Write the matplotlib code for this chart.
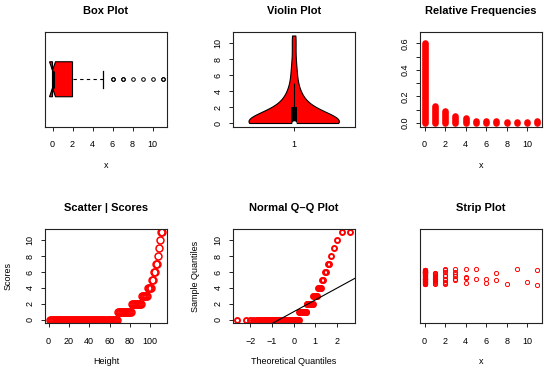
import statistics

import matplotlib
matplotlib.use("Agg")
import matplotlib.pyplot as plt
import numpy as np

# score values and how often each one occurs
values = [0, 1, 2, 3, 4, 5, 6, 7, 8, 9, 10, 11]
counts = [67, 14, 10, 6, 4, 2, 2, 2, 1, 1, 1, 2]

# vertical jitter of the strip plot points, read per value
jitter = {
    0: [0.07, -0.03, 0.02, -0.09, 0.05, -0.06, 0.01, 0.04, -0.08, 0.06,
        -0.01, -0.05, 0.03, 0.07, -0.07, 0.00, -0.04, 0.05, -0.09, 0.02,
        0.06, -0.02, -0.06, 0.04, 0.01, -0.08, 0.07, -0.03, 0.03, -0.05,
        0.05, -0.01, -0.07, 0.02, 0.06, -0.04, 0.00, -0.09, 0.04, 0.07,
        -0.02, -0.06, 0.01, 0.03, -0.08, 0.05, -0.03, 0.06, -0.05, 0.02,
        -0.01, 0.07, -0.07, 0.04, -0.04, 0.00, 0.03, -0.09, 0.05, -0.02,
        0.06, -0.06, 0.01, -0.08, 0.04, -0.03, 0.02],
    1: [0.03, -0.05, 0.01, -0.09, -0.02, 0.02, -0.07, -0.04, 0.00, -0.08,
        0.03, -0.06, -0.01, -0.03],
    2: [0.08, 0.07, 0.04, 0.01, 0.00, -0.03, -0.05, -0.07, -0.09, -0.08],
    3: [0.08, 0.05, 0.02, 0.00, -0.03, -0.05],
    4: [0.08, -0.02, -0.08, -0.01],
    5: [0.08, -0.04],
    6: [-0.04, -0.08],
    7: [0.03, -0.05],
    8: [-0.09],
    9: [0.08],
    10: [-0.07],
    11: [0.07, -0.10],
}

data = np.repeat(values, counts)
n = len(data)
rel_freq = np.array(counts) / n

plt.rcParams['font.family'] = ['Liberation Sans', 'DejaVu Sans']

RED = '#ff0000'
W, H = 550.0, 373.0
lefts = [45, 232.7, 420]
tops = [32, 228.7]
bw, bh = 122, 94.5

fig = plt.figure(figsize=(5.5, 3.73), dpi=100)


def make_ax(row, col, title):
    ax = fig.add_axes([lefts[col] / W, 1 - (tops[row] + bh) / H, bw / W, bh / H])
    ax.set_title(title, fontsize=8, fontweight='bold', pad=13)
    for s in ax.spines.values():
        s.set_linewidth(0.8)
        s.set_color('#222222')
    ax.tick_params(direction='out', length=3.2, width=0.7, labelsize=6.5,
                   color='#222222')
    ax.tick_params(axis='x', pad=6.6)
    ax.tick_params(axis='y', pad=4.2, labelrotation=90)
    return ax


def finish(ax, xlabel=None, ylabel=None):
    for lab in ax.get_yticklabels():
        lab.set_va('center')
    if xlabel:
        ax.set_xlabel(xlabel, fontsize=6.5)
        ax.xaxis.set_label_coords(0.5, -38.7 / bh)
        ax.xaxis.label.set_va('center')
    if ylabel:
        ax.set_ylabel(ylabel, fontsize=6.5)
        ax.yaxis.set_label_coords(-36.7 / bw, 0.5)
        ax.yaxis.label.set_va('center')


# box plot
ax = make_ax(0, 0, 'Box Plot')
ax.boxplot(data, orientation='horizontal', notch=True, widths=0.4,
           patch_artist=True,
           boxprops=dict(facecolor=RED, edgecolor='black', linewidth=0.8),
           medianprops=dict(color='black', linewidth=2.2),
           whiskerprops=dict(linestyle=(0, (3, 3)), linewidth=0.8),
           capprops=dict(linewidth=0.9),
           flierprops=dict(marker='o', markerfacecolor='none',
                           markeredgecolor='black', markersize=2.6,
                           markeredgewidth=0.7))
ax.set_xlim(-0.75, 11.45)
ax.set_ylim(0.46, 1.54)
ax.set_yticks([])
ax.set_xticks([0, 2, 4, 6, 8, 10])
finish(ax, xlabel='x')

# violin plot
ax = make_ax(0, 1, 'Violin Plot')
sd = np.std(data, ddof=1)
h = 1.15 * sd * (4 / (3 * n)) ** 0.2
parts = ax.violinplot(data, positions=[1], widths=0.8, showextrema=False,
                      bw_method=h / sd, points=300)
for body in parts['bodies']:
    body.set_facecolor(RED)
    body.set_edgecolor('black')
    body.set_linewidth(0.8)
    body.set_alpha(1)
q1, med, q3 = np.percentile(data, [25, 50, 75])
upper = data[data <= q3 + 1.5 * (q3 - q1)].max()
ax.vlines(1, data.min(), upper, color='black', linewidth=0.8)
ax.bar(1, q3 - q1, bottom=q1, width=0.05, color='black')
ax.plot(1, med, 'o', color='white', markersize=2.2)
ax.set_xlim(0.46, 1.54)
ax.set_ylim(-0.44, 11.44)
ax.set_xticks([1])
ax.set_yticks([0, 2, 4, 6, 8, 10])
finish(ax)

# relative frequencies
ax = make_ax(0, 2, 'Relative Frequencies')
ax.vlines(values, 0, rel_freq, color=RED, linewidth=4.8, capstyle='round')
top = rel_freq.max() * 1.1
ax.set_ylim(-0.04 * top, top * 1.04)
ax.set_xlim(-0.44, 11.44)
ax.set_xticks([0, 2, 4, 6, 8, 10])
ax.set_yticks([0.0, 0.1, 0.2, 0.3, 0.4, 0.5, 0.6])
ax.set_yticklabels(['0.0', '', '0.2', '', '0.4', '', '0.6'])
finish(ax, xlabel='x')

# scatter of sorted scores
ax = make_ax(1, 0, 'Scatter | Scores')
idx = np.arange(1, n + 1)
ax.plot(idx, np.sort(data), 'o', markerfacecolor='none', markeredgecolor=RED,
        markersize=5, markeredgewidth=1.1)
ax.set_xlim(1 - 0.04 * (n - 1), n + 0.04 * (n - 1))
ax.set_ylim(-0.44, 11.44)
ax.set_xticks([0, 20, 40, 60, 80, 100])
ax.set_yticks([0, 2, 4, 6, 8, 10])
finish(ax, xlabel='Height', ylabel='Scores')

# normal q-q plot
ax = make_ax(1, 1, 'Normal Q\u2013Q Plot')
nd = statistics.NormalDist()
theo = np.array([nd.inv_cdf((i - 0.5) / n) for i in idx])
ax.plot(theo, np.sort(data), 'o', markerfacecolor='none', markeredgecolor=RED,
        markersize=3.6, markeredgewidth=1.4)
ax.axline((nd.inv_cdf(0.25), q1), (nd.inv_cdf(0.75), q3), color='black',
          linewidth=0.8)
span = theo.max() - theo.min()
ax.set_xlim(theo.min() - 0.04 * span, theo.max() + 0.04 * span)
ax.set_ylim(-0.44, 11.44)
ax.set_xticks([-2, -1, 0, 1, 2])
ax.set_yticks([0, 2, 4, 6, 8, 10])
finish(ax, xlabel='Theoretical Quantiles', ylabel='Sample Quantiles')

# strip plot
ax = make_ax(1, 2, 'Strip Plot')
for v in values:
    yj = 1 + np.array(jitter[v])
    ax.plot(np.full(len(yj), v), yj, 'o', markerfacecolor='none',
            markeredgecolor=RED, markersize=3, markeredgewidth=0.7)
ax.set_xlim(-0.44, 11.44)
ax.set_ylim(0.46, 1.54)
ax.set_yticks([])
ax.set_xticks([0, 2, 4, 6, 8, 10])
finish(ax, xlabel='x')

fig.savefig('out.png', dpi=100)
